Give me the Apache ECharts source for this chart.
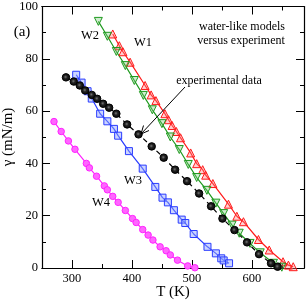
<!DOCTYPE html>
<html>
<head>
<meta charset="utf-8">
<script src="https://cdn.jsdelivr.net/npm/echarts@6/dist/echarts.min.js"></script>
<style>html,body{margin:0;padding:0;background:#fff;}#c{width:306px;height:300px;}</style>
</head>
<body>
<div id="c"></div>
<script>
// ---- data ----
const w1T = [368,379,385,397,422,432,440,455,461,467,474,481,498,508,518,523,535,561,575,586,611,629,652,661,669];
const w1G = [89.5,85.0,82.7,78.7,69.8,66.2,64.0,59.0,56.7,54.5,52.2,49.8,44.0,39.9,37.6,35.5,32.3,24.4,19.8,17.7,10.9,6.9,2.4,1.1,0.5];

const w2T = [344,359,374,389,404,419,434,450,464,479,494,508,525,540,553,567,579,597,614,636,650];
const w2G = [94.3,88.6,82.8,77.4,71.7,66.0,60.5,55.2,50.1,45.3,39.6,34.6,29.7,24.8,20.8,16.4,13.3,9.4,5.8,1.8,0.3];

const w3T = [307,316,326,333,347,359,370,377,395,418,439,451,460,470,483,489,503,526,540,549,553,562];
const w3G = [73.9,70.9,67.6,64.8,59.0,56.1,53.2,50.6,44.7,38.0,31.0,26.9,25.1,22.1,18.5,17.2,13.0,8.1,5.6,3.7,2.9,1.8];

const w4T = [270,282,294,305,324,329,341,354,359,368,377,389,401,407,418,427,435,447,457,464,476,493,505];
const w4G = [56.0,52.2,48.6,45.4,40.0,38.3,35.1,31.4,29.9,27.4,25.1,22.0,18.9,17.4,14.7,12.6,10.7,8.1,6.6,5.0,3.0,0.8,0.1];

const expT = [290,303,313,322,333,342,352,362,374,392,411,433,453,472,492,512,532,551,571,592,612,632,643];
const expG = [72.9,71.3,69.8,67.9,66.2,64.7,62.8,61.3,59.0,54.9,51.1,46.5,42.2,37.6,33.2,28.5,23.6,18.9,14.5,9.8,5.3,1.8,0.5];

const xMajor = [300,400,500,600];
const xMinor = [350,450,550,650];
const xMin = 250, xMax = 687;

const serif = '"Liberation Serif","DejaVu Serif",serif';
const pairs = (a,b) => a.map((v,i)=>[v,b[i]]);

const chart = echarts.init(document.getElementById('c'), null, {renderer:'canvas'});

function xAx(pos, ticks, len, labels){
  return {
    type:'value', position:pos, min:xMin, max:xMax,
    axisLine:{show:true, onZero:false, lineStyle:{color:'#000', width:1.2}},
    axisTick:{show:true, inside:true, length:len, customValues:ticks, lineStyle:{color:'#000', width:1}},
    axisLabel:{show:labels, customValues:ticks, color:'#000', fontFamily:serif, fontSize:12.5, margin:4},
    splitLine:{show:false}
  };
}
function yAx(pos, labels){
  return {
    type:'value', position:pos, min:0, max:100, interval:20,
    axisLine:{show:true, onZero:false, lineStyle:{color:'#000', width:1.2}},
    axisTick:{show:true, inside:true, length:8, lineStyle:{color:'#000', width:1}},
    minorTick:{show:true, splitNumber:2, length:4, lineStyle:{color:'#000', width:1}},
    axisLabel:{show:labels, color:'#000', fontFamily:serif, fontSize:12.5, margin:4},
    splitLine:{show:false}, minorSplitLine:{show:false}
  };
}

function ser(name, T, G, color, fill, symbol, rot, size, dashed){
  return {
    name, type:'line', xAxisIndex:0, yAxisIndex:0,
    data: pairs(T,G),
    symbol, symbolSize:size, symbolRotate:rot,
    lineStyle:{color, width:1.2, type: dashed ? [5,4] : 'solid'},
    itemStyle:{color:fill, borderColor:color, borderWidth:1},
    animation:false, z:3
  };
}

const blackFill = new echarts.graphic.RadialGradient(0.45, 0.45, 0.6, [
  {offset:0, color:'#777'}, {offset:0.35, color:'#222'}, {offset:1, color:'#000'}
]);

chart.setOption({
  animation:false,
  grid:{left:42, top:6, width:262, height:262, containLabel:false},
  xAxis:[
    xAx('bottom', xMajor, 8, true),
    xAx('bottom', xMinor, 4, false),
    xAx('top', xMajor, 8, false),
    xAx('top', xMinor, 4, false)
  ],
  yAxis:[ yAx('left', true), yAx('right', false) ],
  series:[
    ser('W1', w1T, w1G, '#ff1a1a', 'rgba(255,120,120,0.35)', 'triangle', 0, 8, false),
    ser('W2', w2T, w2G, '#1f9a1f', 'rgba(120,200,120,0.35)', 'triangle', 180, 8, false),
    ser('W3', w3T, w3G, '#2a3cff', 'rgba(140,160,255,0.45)', 'rect', 0, 7, false),
    ser('W4', w4T, w4G, '#ff22ff', '#ff66ff', 'circle', 0, 6.5, false),
    ser('exp', expT, expG, '#000', blackFill, 'circle', 0, 7.5, true)
  ],
  graphic:[
    {type:'text', x:22, y:32, style:{text:'(a)', font:'15px '+serif, fill:'#000', textAlign:'center', textVerticalAlign:'middle'}},
    {type:'text', x:90, y:36, style:{text:'W2', font:'12.5px '+serif, fill:'#000', textAlign:'center', textVerticalAlign:'middle'}},
    {type:'text', x:143, y:42.5, style:{text:'W1', font:'12.5px '+serif, fill:'#000', textAlign:'center', textVerticalAlign:'middle'}},
    {type:'text', x:133, y:181, style:{text:'W3', font:'12.5px '+serif, fill:'#000', textAlign:'center', textVerticalAlign:'middle'}},
    {type:'text', x:101, y:203, style:{text:'W4', font:'12.5px '+serif, fill:'#000', textAlign:'center', textVerticalAlign:'middle'}},
    {type:'text', x:242, y:26.5, style:{text:'water-like models', font:'12px '+serif, fill:'#000', textAlign:'center', textVerticalAlign:'middle'}},
    {type:'text', x:241, y:41, style:{text:'versus experiment', font:'12px '+serif, fill:'#000', textAlign:'center', textVerticalAlign:'middle'}},
    {type:'text', x:219, y:81, style:{text:'experimental data', font:'12px '+serif, fill:'#000', textAlign:'center', textVerticalAlign:'middle'}},
    {type:'line', shape:{x1:185, y1:87, x2:141, y2:134}, style:{stroke:'#000', lineWidth:1}, z:10},
    {type:'polyline', shape:{points:[[149,130.5],[141,134],[143.5,125.5]]}, style:{stroke:'#000', lineWidth:1, fill:null}, z:10},
    {type:'text', x:173, y:292, style:{text:'T (K)', font:'15px '+serif, fill:'#000', textAlign:'center', textVerticalAlign:'middle'}},
    {type:'text', x:8, y:137, rotation:Math.PI/2, style:{text:'\u03b3 (mN/m)', font:'15px '+serif, fill:'#000', textAlign:'center', textVerticalAlign:'middle'}}
  ]
});
</script>
</body>
</html>
